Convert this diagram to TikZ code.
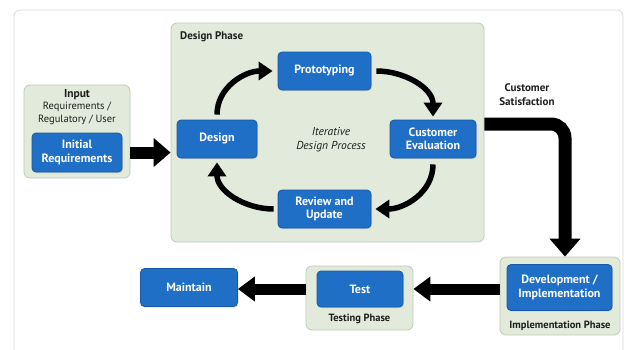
\documentclass[tikz,border=0pt]{standalone}
\usepackage{fontspec}
\setmainfont{PT Sans}
\usetikzlibrary{arrows.meta,shadows}
\definecolor{boxblue}{HTML}{1F6FC6}
\definecolor{boxblueedge}{HTML}{185AA3}
\definecolor{phasefill}{HTML}{E2EADB}
\definecolor{phaseedge}{HTML}{BFCBB6}
\definecolor{textdark}{HTML}{1E1E1E}
\tikzset{
  bluebox/.style={draw=boxblueedge, line width=0.8pt, fill=boxblue, rounded corners=4pt,
    text=white, font=\fontsize{12}{13.5}\selectfont\bfseries, align=center, inner sep=0pt,
    drop shadow={opacity=0.25, shadow xshift=1pt, shadow yshift=-1.2pt}},
  phasebox/.style={draw=phaseedge, line width=0.8pt, fill=phasefill, rounded corners=6pt, inner sep=0pt},
  lbl/.style={text=textdark, font=\fontsize{10.5}{12}\selectfont\bfseries, align=center, inner sep=0pt},
  cyclearrow/.style={line width=5.5pt, draw=black, -{Triangle[length=14pt,width=18pt]}},
  bigarrow/.style={line width=12pt, draw=black, -{Triangle[length=17pt,width=28pt]}},
}
\begin{document}
\begin{tikzpicture}[x=1pt,y=-1pt]
\useasboundingbox (0,0) rectangle (626,349);
\clip (0,0) rectangle (626,349);
% outer frame
\node[draw=black!15, line width=0.8pt, fill=white, rounded corners=6pt, minimum width=609pt, minimum height=360pt, inner sep=0pt] (frame) at (318.5,190) {};
% phase boxes
\node[phasebox, minimum width=106pt, minimum height=93pt] (inp) at (77,131.5) {};
\node[phasebox, minimum width=313pt, minimum height=219pt] (dphase) at (327.5,132.5) {};
\node[phasebox, minimum width=120pt, minimum height=78pt] (iphase) at (560,296) {};
\node[phasebox, minimum width=107pt, minimum height=64pt] (tphase) at (359.5,298) {};
% labels of phases
\node[lbl, font=\fontsize{11.5}{13}\selectfont\bfseries] (inptitle) at (77,94.5) {Input};
\node[lbl, font=\fontsize{10.5}{13}\selectfont] (inpsub) at (77,113.5) {Requirements /\\Regulatory / User};
\node[lbl, anchor=west, font=\fontsize{11}{13}\selectfont\bfseries] (dtitle) at (180,37) {Design Phase};
\node[lbl] (ititle) at (560,325.5) {Implementation Phase};
\node[lbl] (ttitle) at (359.5,319) {Testing Phase};
\node[lbl, font=\fontsize{11}{13.5}\selectfont\bfseries] (custsat) at (527,94.5) {Customer\\Satisfaction};
\node[text=textdark, font=\fontsize{11.5}{14}\selectfont\itshape, align=center, inner sep=0pt] (iter) at (331,140) {Iterative\\Design Process};
% blue boxes
\node[bluebox, minimum width=90pt, minimum height=39pt] (initreq) at (77,152.5) {Initial\\Requirements};
\node[bluebox, minimum width=93pt, minimum height=38pt] (proto) at (324.5,71) {Prototyping};
\node[bluebox, minimum width=80pt, minimum height=38pt] (design) at (217,139) {Design};
\node[bluebox, minimum width=86pt, minimum height=38pt] (cust) at (433,139) {Customer\\Evaluation};
\node[bluebox, minimum width=93pt, minimum height=38pt] (review) at (324.5,209) {Review and\\Update};
\node[bluebox, minimum width=105pt, minimum height=46pt] (dev) at (559.5,287.5) {Development /\\Implementation};
\node[bluebox, minimum width=86pt, minimum height=36pt] (test) at (360,289) {Test};
\node[bluebox, minimum width=97pt, minimum height=38pt] (maint) at (189,287.5) {Maintain};
% cycle arrows
\draw[cyclearrow] ([yshift=5pt]design.north) to[out=90,in=180] ([xshift=-5pt]proto.west);
\draw[cyclearrow] ([xshift=5pt]proto.east) to[out=0,in=90] ([yshift=3pt]cust.north);
\draw[cyclearrow] ([yshift=-6pt]cust.south) to[out=-90,in=0] ([xshift=4pt]review.east);
\draw[cyclearrow] ([xshift=-4pt]review.west) to[out=180,in=-90] ([yshift=-4pt]design.south);
% big arrows
\draw[bigarrow] (inp.east |- initreq) -- (dphase.west |- initreq);
\coordinate (lcorner) at (565,124);
\draw[bigarrow, line width=13pt, -{Triangle[length=18pt,width=30pt]}, rounded corners=14pt] (dphase.east |- lcorner) -- (lcorner) -- (iphase.north -| lcorner);
\draw[bigarrow, line width=11pt, -{Triangle[length=17pt,width=24pt]}] (iphase.west |- test) -- (tphase.east |- test);
\draw[bigarrow, line width=11pt, -{Triangle[length=17pt,width=24pt]}] (tphase.west |- test) -- (maint.east |- test);
\end{tikzpicture}
\end{document}
